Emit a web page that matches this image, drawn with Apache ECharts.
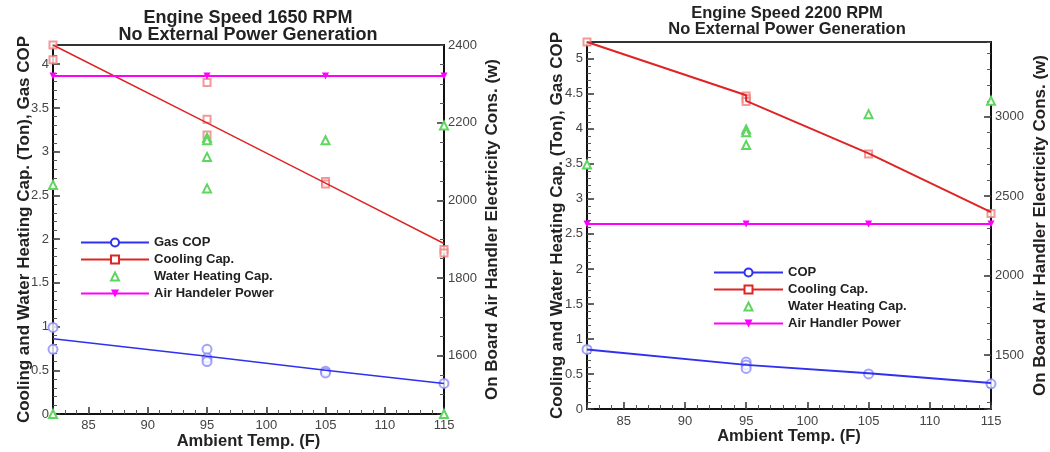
<!DOCTYPE html>
<html>
<head>
<meta charset="utf-8">
<script src="https://cdn.jsdelivr.net/npm/echarts@6/dist/echarts.min.js"></script>
<style>
html,body{margin:0;padding:0;background:#fff;}
#chart{width:1050px;height:452px;}
</style>
</head>
<body>
<div id="chart"></div>
<script>
// ---------- TEXT ----------
const titleLeft = 'Engine Speed 1650 RPM\nNo External Power Generation';
const titleRight = 'Engine Speed 2200 RPM\nNo External Power Generation';
const xName = 'Ambient Temp. (F)';
const yLeftName = 'Cooling and Water Heating Cap. (Ton), Gas COP';
const yRightName = 'On Board Air Handler Electricity Cons. (w)';
const legendLeft = ['Gas COP', 'Cooling Cap.', 'Water Heating Cap.', 'Air Handeler Power'];
const legendRight = ['COP', 'Cooling Cap.', 'Water Heating Cap.', 'Air Handler Power'];

// ---------- DATA: Engine speed 1650 RPM ----------
const copPtsX_1650 = [82, 82, 95, 95, 95, 105, 105, 115];
const copPtsY_1650 = [0.99, 0.74, 0.74, 0.64, 0.60, 0.49, 0.47, 0.35];
const copLineX_1650 = [82, 95, 105, 115];
const copLineY_1650 = [0.86, 0.66, 0.50, 0.35];

const coolPtsX_1650 = [82, 82, 95, 95, 95, 105, 105, 115, 115];
const coolPtsY_1650 = [4.22, 4.05, 3.79, 3.37, 3.19, 2.66, 2.63, 1.88, 1.84];
const coolLineX_1650 = [82, 95, 105, 115];
const coolLineY_1650 = [4.22, 3.33, 2.64, 1.95];

const waterPtsX_1650 = [82, 82, 95, 95, 95, 95, 105, 115, 115];
const waterPtsY_1650 = [2.62, 0, 3.16, 3.13, 2.94, 2.58, 3.13, 3.30, 0];

const airX_1650 = [82, 95, 105, 115];
const airY_1650 = [2320, 2320, 2320, 2320];

// ---------- DATA: Engine speed 2200 RPM ----------
const copPtsX_2200 = [82, 95, 95, 95, 105, 115];
const copPtsY_2200 = [0.85, 0.67, 0.63, 0.58, 0.50, 0.36];
const copLineX_2200 = [82, 95, 105, 115];
const copLineY_2200 = [0.85, 0.63, 0.51, 0.37];

const coolPtsX_2200 = [82, 95, 95, 95, 105, 115];
const coolPtsY_2200 = [5.24, 4.47, 4.43, 4.39, 3.64, 2.79];
const coolLineX_2200 = [82, 95, 95, 105, 115];
const coolLineY_2200 = [5.24, 4.48, 4.40, 3.65, 2.81];

const waterPtsX_2200 = [82, 95, 95, 95, 105, 115];
const waterPtsY_2200 = [3.49, 3.99, 3.95, 3.77, 4.21, 4.40];

const airX_2200 = [82, 95, 105, 115];
const airY_2200 = [2325, 2325, 2325, 2325];

// ---------- CHART ----------
const zip = (xs, ys) => xs.map((x, i) => [x, ys[i]]);
const FONT = '"Liberation Sans", Arial, Helvetica, sans-serif';
const BLUE = '#3030f0', BLUE_PT = '#8a8aff';
const RED = '#de2424', RED_PT = '#f08080';
const GREEN = '#5fd65f';
const MAG = '#ff00ff';
const TICK = '#333';

const isMult = (v, m) => Math.abs(v / m - Math.round(v / m)) < 1e-6;
const lblStyle = {color: '#444', fontSize: 13, fontFamily: FONT};
const xNameStyle = {color: '#222', fontSize: 16.5, fontWeight: 'bold', fontFamily: FONT};
const yNameStyle = {color: '#222', fontSize: 17, fontWeight: 'bold', fontFamily: FONT};

function xMain(grid, gap, margin) {
  return {
    type: 'value', gridIndex: grid, position: 'bottom', min: 82, max: 115,
    name: xName, nameLocation: 'middle', nameGap: gap, nameTextStyle: xNameStyle, nameMoveOverlap: false,
    axisLine: {show: true, onZero: false, lineStyle: {color: '#111', width: 2}},
    axisTick: {show: true, inside: true, length: 7, lineStyle: {color: TICK, width: 1.5}},
    axisLabel: Object.assign({margin: margin, formatter: v => isMult(v, 5) ? String(v) : ''}, lblStyle),
    splitLine: {show: false}
  };
}
function minorAxis(grid, pos, min, max, extra) {
  return Object.assign({
    type: 'value', gridIndex: grid, position: pos, min: min, max: max,
    axisLine: {show: false, onZero: false},
    axisTick: {show: true, inside: true, length: 4, lineStyle: {color: '#555', width: 1}},
    axisLabel: {show: false}, splitLine: {show: false}
  }, extra);
}
function yMain(grid, pos, min, max, step, gap, extra) {
  return Object.assign({
    type: 'value', gridIndex: grid, position: pos, min: min, max: max,
    name: yLeftName, nameLocation: 'middle', nameGap: gap, nameTextStyle: yNameStyle, nameMoveOverlap: false,
    axisLine: {show: true, onZero: false, lineStyle: {color: '#111', width: 2}},
    axisTick: {show: true, inside: true, length: 7, lineStyle: {color: TICK, width: 1.5}},
    axisLabel: Object.assign({margin: 4, formatter: v => isMult(v, step) ? String(v) : ''}, lblStyle),
    splitLine: {show: false}
  }, extra);
}

function seriesFor(g, names, d, lw) {
  const xi = g * 2, yl = g * 4, yr = g * 4 + 2;
  return [
    {name: names[0], type: 'line', xAxisIndex: xi, yAxisIndex: yl, data: zip(d.copLX, d.copLY),
     symbol: 'emptyCircle', symbolSize: 8, showSymbol: false, z: 3,
     lineStyle: {color: BLUE, width: lw}, itemStyle: {color: BLUE}},
    {name: names[0], type: 'scatter', xAxisIndex: xi, yAxisIndex: yl, data: zip(d.copPX, d.copPY),
     symbol: 'emptyCircle', symbolSize: 9, itemStyle: {color: BLUE_PT, borderWidth: 1}, z: 2},
    {name: names[1], type: 'line', xAxisIndex: xi, yAxisIndex: yl, data: zip(d.coolLX, d.coolLY),
     symbol: 'emptyRect', symbolSize: 7, showSymbol: false, z: 3,
     lineStyle: {color: RED, width: lw}, itemStyle: {color: RED}},
    {name: names[1], type: 'scatter', xAxisIndex: xi, yAxisIndex: yl, data: zip(d.coolPX, d.coolPY),
     symbol: 'emptyRect', symbolSize: 7, itemStyle: {color: RED_PT, borderWidth: 1}, z: 2},
    // water heating: points only (line drawn invisible so the legend shows just the symbol)
    {name: names[2], type: 'line', xAxisIndex: xi, yAxisIndex: yl, data: zip(d.watPX, d.watPY),
     symbol: 'emptyTriangle', symbolSize: 8, showSymbol: true, showAllSymbol: true, z: 2,
     lineStyle: {width: 0, opacity: 0}, itemStyle: {color: GREEN, borderWidth: 1}},
    {name: names[3], type: 'line', xAxisIndex: xi, yAxisIndex: yr, data: zip(d.airX, d.airY),
     symbol: 'triangle', symbolRotate: 180, symbolSize: 7, showSymbol: true, z: 4,
     lineStyle: {color: MAG, width: 2}, itemStyle: {color: MAG}}
  ];
}

const d1650 = {copLX: copLineX_1650, copLY: copLineY_1650, copPX: copPtsX_1650, copPY: copPtsY_1650,
  coolLX: coolLineX_1650, coolLY: coolLineY_1650, coolPX: coolPtsX_1650, coolPY: coolPtsY_1650,
  watPX: waterPtsX_1650, watPY: waterPtsY_1650, airX: airX_1650, airY: airY_1650};
const d2200 = {copLX: copLineX_2200, copLY: copLineY_2200, copPX: copPtsX_2200, copPY: copPtsY_2200,
  coolLX: coolLineX_2200, coolLY: coolLineY_2200, coolPX: coolPtsX_2200, coolPY: coolPtsY_2200,
  watPX: waterPtsX_2200, watPY: waterPtsY_2200, airX: airX_2200, airY: airY_2200};

const legendText = {color: '#222', fontSize: 13, fontWeight: 'bold', fontFamily: FONT};

const option = {
  animation: false,
  backgroundColor: '#fff',
  title: [
    {text: titleLeft, left: 248, top: 10, padding: 0, textAlign: 'center',
     textStyle: {fontSize: 18, fontWeight: 'bold', color: '#222', fontFamily: FONT, lineHeight: 17}},
    {text: titleRight, left: 787, top: 5, padding: 0, textAlign: 'center',
     textStyle: {fontSize: 16.5, fontWeight: 'bold', color: '#222', fontFamily: FONT, lineHeight: 16}}
  ],
  grid: [
    {left: 53, top: 45, width: 391, height: 369, show: true, borderColor: '#333', borderWidth: 2,
     backgroundColor: 'transparent', outerBoundsMode: 'none', containLabel: false},
    {left: 587, top: 42, width: 404, height: 367, show: true, borderColor: '#333', borderWidth: 2,
     backgroundColor: 'transparent', outerBoundsMode: 'none', containLabel: false}
  ],
  legend: [
    {orient: 'vertical', left: 75, top: 231, itemWidth: 68, itemHeight: 10, itemGap: 4,
     textStyle: legendText, data: legendLeft, selectedMode: false},
    {orient: 'vertical', left: 708, top: 261, itemWidth: 69, itemHeight: 10, itemGap: 4,
     textStyle: legendText, data: legendRight, selectedMode: false}
  ],
  xAxis: [
    xMain(0, 19, 5),
    minorAxis(0, 'bottom', 82, 115, {interval: 1}),
    xMain(1, 19, 6),
    minorAxis(1, 'bottom', 82, 115, {interval: 1})
  ],
  yAxis: [
    yMain(0, 'left', 0, 4.22, 0.5, 20, {interval: 0.5}),
    minorAxis(0, 'left', 0, 4.22, {interval: 0.1}),
    yMain(0, 'right', 1450, 2400, 200, 40, {name: yRightName, splitNumber: 5}),
    minorAxis(0, 'right', 1450, 2400, {interval: 50}),
    yMain(1, 'left', 0, 5.24, 0.5, 21, {interval: 0.5}),
    minorAxis(1, 'left', 0, 5.24, {interval: 0.1}),
    yMain(1, 'right', 1160, 3470, 500, 41, {name: yRightName, splitNumber: 5}),
    minorAxis(1, 'right', 1160, 3470, {splitNumber: 23})
  ],
  series: [].concat(seriesFor(0, legendLeft, d1650, 1.5), seriesFor(1, legendRight, d2200, 2))
};

const chart = echarts.init(document.getElementById('chart'), null, {renderer: 'canvas'});
chart.setOption(option);
</script>
</body>
</html>
